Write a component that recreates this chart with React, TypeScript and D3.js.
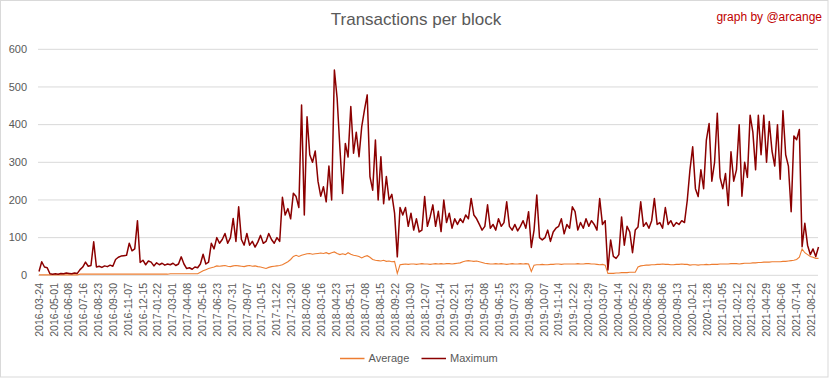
import React from "react";
import * as d3 from "d3";

const START_DATE = "2016-03-24";
const STEP_DAYS = 7;

const tickLabels = [
  "2016-03-24","2016-05-01","2016-06-08","2016-07-16","2016-08-23","2016-09-30","2016-11-07","2016-12-15",
  "2017-01-22","2017-03-01","2017-04-08","2017-05-16","2017-06-23","2017-07-31","2017-09-07","2017-10-15",
  "2017-11-22","2017-12-30","2018-02-06","2018-03-16","2018-04-23","2018-05-31","2018-07-08","2018-08-15",
  "2018-09-22","2018-10-30","2018-12-07","2019-01-14","2019-02-21","2019-03-31","2019-05-08","2019-06-15",
  "2019-07-23","2019-08-30","2019-10-07","2019-11-14","2019-12-22","2020-01-29","2020-03-07","2020-04-14",
  "2020-05-22","2020-06-29","2020-08-06","2020-09-13","2020-10-21","2020-11-28","2021-01-05","2021-02-12",
  "2021-03-22","2021-04-29","2021-06-06","2021-07-14","2021-08-22",
];

const yTicks = [0, 100, 200, 300, 400, 500, 600];

const maximum = [
  10,36,22,20,4,3,4,3,5,4,
  6,5,4,6,5,15,22,35,24,26,
  89,22,24,21,25,23,27,24,42,48,
  51,52,53,85,65,70,145,34,40,28,
  38,35,25,33,28,32,27,30,28,32,
  26,30,49,30,18,20,16,22,20,30,
  56,30,35,85,70,100,85,95,111,85,
  100,151,90,182,95,80,111,80,90,75,
  88,106,85,90,111,95,85,100,90,207,
  160,177,150,218,209,180,452,160,421,320,
  300,330,250,210,235,195,290,200,545,470,
  340,217,350,314,448,324,380,315,395,439,
  479,262,226,359,200,315,190,262,200,215,
  165,49,180,160,180,130,165,120,150,115,
  120,209,130,155,187,130,170,116,200,140,
  165,125,150,135,150,140,160,150,204,160,
  150,135,120,130,187,125,135,120,150,130,
  140,195,130,120,135,118,130,145,125,169,
  74,120,213,100,94,100,120,90,115,125,
  130,150,110,135,125,182,169,120,140,125,
  150,130,145,135,120,204,135,145,14,94,
  50,45,55,155,80,130,115,60,120,128,
  195,130,140,125,145,204,135,140,125,180,
  135,145,130,140,135,145,140,198,280,341,
  230,209,280,230,359,403,250,300,430,260,
  230,270,185,328,250,280,400,210,300,260,
  425,380,280,425,320,425,300,408,330,290,
  400,255,437,320,290,169,370,360,387,76,
  138,80,55,70,50,75,
];

const average = [
  1,1,1,1,1,1,1,1,1,1,
  1,1,1,1,1,3,3,3,3,3,
  3,3,3,3,3,3,3,3,3,3,
  3,3,3,3,3,3,3,3,3,3,
  3,3,3,3,3,3,3,3,4,4,
  4,4,4,4,4,4,4,4,4,8,
  12,15,18,20,22,25,24,25,26,24,
  23,25,26,25,24,23,25,26,24,25,
  23,22,20,18,21,23,24,25,26,28,
  32,36,42,50,53,50,53,55,57,58,
  56,57,58,59,58,60,57,60,62,58,
  55,57,55,60,56,53,52,50,46,50,
  52,48,42,40,39,38,40,37,38,36,
  37,5,28,29,30,29,30,30,29,30,
  31,30,30,29,30,31,30,31,30,31,
  31,30,31,32,33,36,38,39,38,37,
  38,36,34,32,31,30,30,31,30,31,
  30,29,30,31,30,30,31,30,31,30,
  10,27,28,28,29,28,28,29,29,30,
  30,29,30,30,30,30,30,31,30,30,
  31,31,30,30,29,28,29,27,5,5,
  5,6,6,7,7,7,8,8,8,22,
  25,26,27,27,28,28,29,29,30,29,
  29,28,28,29,29,30,29,29,27,28,
  28,27,28,28,29,28,29,29,29,30,
  30,30,30,31,31,31,30,31,32,32,
  32,33,33,34,34,35,35,35,36,36,
  36,36,37,37,38,39,40,42,48,70,
  60,55,50,48,45,45,
];

const seriesNames = ["Average", "Maximum"];
const seriesColors = ["#ED7D31", "#8B0000"];

const FONT = "'Liberation Sans', Arial, sans-serif";

export default function App() {
  const W = 833;
  const H = 379;
  const parse = d3.utcParse("%Y-%m-%d");
  const start = parse(START_DATE) as Date;
  const dates = maximum.map((_, i) => d3.utcDay.offset(start, i * STEP_DAYS));

  const x = d3.scaleUtc().domain([start, dates[dates.length - 1]]).range([39, 818.5]);
  const y = d3.scaleLinear().domain([0, 600]).range([275.3, 49.3]);

  const line = d3
    .line<number>()
    .x((_, i) => x(dates[i]))
    .y((d) => y(d));

  const plotLeft = 38;
  const plotRight = 818;

  return (
    <svg
      width={W}
      height={H}
      style={{ position: "absolute", left: 0, top: 0, background: "#fff" }}
      fontFamily={FONT}
    >
      <rect x={0.5} y={0.5} width={827.5} height={376.5} fill="#fff" stroke="#d9d9d9" />
      <text x={416} y={25} textAnchor="middle" fontSize={17} fill="#595959">
        Transactions per block
      </text>
      <text x={822} y={21} textAnchor="end" fontSize={12} fill="#C00000">
        graph by @arcange
      </text>

      {yTicks.map((t) => (
        <g key={t}>
          <line x1={plotLeft} x2={plotRight} y1={y(t)} y2={y(t)} stroke="#d9d9d9" strokeWidth={1} />
          <text x={27} y={y(t)} dy="0.35em" textAnchor="end" fontSize={11} fill="#595959">
            {t}
          </text>
        </g>
      ))}

      {tickLabels.map((lab) => {
        const xx = x(parse(lab) as Date);
        return (
          <text
            key={lab}
            transform={`translate(${xx},${283}) rotate(-90)`}
            dy="0.35em"
            textAnchor="end"
            fontSize={10.5}
            fill="#595959"
          >
            {lab}
          </text>
        );
      })}

      <path d={line(average) || ""} fill="none" stroke={seriesColors[0]} strokeWidth={1.1} />
      <path d={line(maximum) || ""} fill="none" stroke={seriesColors[1]} strokeWidth={1.5} strokeLinejoin="round" />

      {seriesNames.map((name, i) => {
        const lx = i === 0 ? 340 : 421.5;
        return (
          <g key={name}>
            <line x1={lx} x2={lx + 24.5} y1={358.5} y2={358.5} stroke={seriesColors[i]} strokeWidth={1.5} />
            <text x={lx + 28.5} y={358.5} dy="0.35em" fontSize={11} fill="#595959">
              {name}
            </text>
          </g>
        );
      })}
    </svg>
  );
}
